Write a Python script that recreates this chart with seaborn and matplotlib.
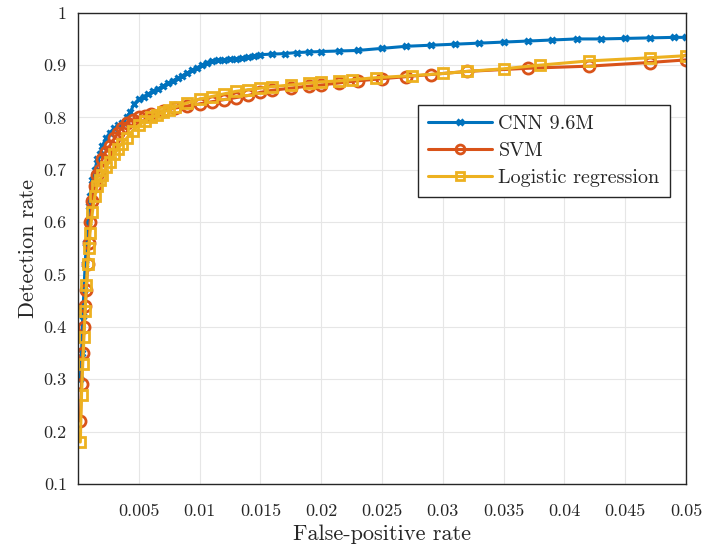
import numpy as np
import pandas as pd
import matplotlib
matplotlib.use('Agg')
import matplotlib.pyplot as plt
import seaborn as sns

# Curvas ROC
cnn_x = [0.0002, 0.0003, 0.0004, 0.0005, 0.0006, 0.0007, 0.0008, 0.0009, 0.001, 0.0012,
         0.0014, 0.0016, 0.0018, 0.002, 0.0023, 0.0026, 0.003, 0.0033, 0.0036, 0.004,
         0.0043, 0.0046, 0.005, 0.0054, 0.0058, 0.0062, 0.0066, 0.007, 0.0074, 0.0078,
         0.0082, 0.0086, 0.009, 0.0094, 0.0098, 0.0102, 0.0106, 0.011, 0.0115, 0.012,
         0.0125, 0.013, 0.0135, 0.014, 0.0145, 0.015, 0.016, 0.017, 0.018, 0.019, 0.02,
         0.0215, 0.023, 0.025, 0.027, 0.029, 0.031, 0.033, 0.035, 0.037, 0.039, 0.041,
         0.043, 0.045, 0.047, 0.049, 0.05]
cnn_y = [0.30, 0.35, 0.42, 0.47, 0.52, 0.56, 0.60, 0.63, 0.65, 0.68,
         0.70, 0.72, 0.73, 0.745, 0.76, 0.77, 0.78, 0.785, 0.79, 0.80,
         0.81, 0.825, 0.835, 0.84, 0.845, 0.85, 0.855, 0.86, 0.865, 0.87,
         0.875, 0.88, 0.885, 0.89, 0.895, 0.90, 0.905, 0.908, 0.910, 0.910,
         0.912, 0.912, 0.914, 0.915, 0.917, 0.920, 0.921, 0.922, 0.924, 0.925, 0.926,
         0.927, 0.928, 0.932, 0.936, 0.938, 0.940, 0.942, 0.944, 0.946, 0.948, 0.950,
         0.950, 0.951, 0.952, 0.953, 0.953]

svm_x = [0.0002, 0.0003, 0.0004, 0.0005, 0.0006, 0.0007, 0.0008, 0.0009, 0.001, 0.0012,
         0.0014, 0.0016, 0.0018, 0.002, 0.0023, 0.0026, 0.003, 0.0033, 0.0036, 0.004,
         0.0045, 0.005, 0.0055, 0.006, 0.007, 0.008, 0.009, 0.01, 0.011, 0.012,
         0.013, 0.014, 0.015, 0.016, 0.0175, 0.019, 0.02, 0.0215, 0.023, 0.025,
         0.027, 0.029, 0.032, 0.037, 0.042, 0.047, 0.05]
svm_y = [0.22, 0.29, 0.35, 0.40, 0.44, 0.47, 0.52, 0.56, 0.60, 0.64,
         0.67, 0.69, 0.70, 0.72, 0.735, 0.745, 0.76, 0.77, 0.78, 0.79,
         0.795, 0.80, 0.803, 0.806, 0.812, 0.818, 0.822, 0.826, 0.830, 0.834,
         0.838, 0.842, 0.848, 0.852, 0.856, 0.860, 0.862, 0.866, 0.870, 0.874,
         0.878, 0.882, 0.888, 0.894, 0.898, 0.905, 0.910]

lr_x = [0.0002, 0.0003, 0.0004, 0.0005, 0.0006, 0.0007, 0.0008, 0.0009, 0.001, 0.0012,
        0.0014, 0.0016, 0.0018, 0.002, 0.0023, 0.0026, 0.003, 0.0033, 0.0036, 0.004,
        0.0045, 0.005, 0.0055, 0.006, 0.0065, 0.007, 0.0075, 0.008, 0.009, 0.01,
        0.011, 0.012, 0.013, 0.014, 0.015, 0.016, 0.0175, 0.019, 0.02, 0.0215,
        0.0225, 0.0245, 0.0275, 0.03, 0.032, 0.035, 0.038, 0.042, 0.047, 0.05]
lr_y = [0.18, 0.27, 0.33, 0.38, 0.43, 0.48, 0.52, 0.55, 0.58, 0.62,
        0.65, 0.67, 0.68, 0.69, 0.705, 0.715, 0.73, 0.74, 0.75, 0.76,
        0.775, 0.785, 0.793, 0.80, 0.805, 0.81, 0.815, 0.82, 0.828, 0.835,
        0.840, 0.845, 0.850, 0.853, 0.856, 0.859, 0.862, 0.866, 0.868, 0.870,
        0.872, 0.876, 0.880, 0.884, 0.888, 0.893, 0.900, 0.908, 0.914, 0.918]

sns.set_style('whitegrid')
plt.rcParams['font.family'] = ['cmr10', 'DejaVu Serif']
plt.rcParams['axes.formatter.use_mathtext'] = True

fig = plt.figure(figsize=(7.08, 5.55), dpi=100)
ax = fig.add_axes([0.110, 0.128, 0.859, 0.849])

sns.lineplot(x=cnn_x, y=cnn_y, ax=ax, color='#0072BD', linewidth=2.2, sort=False,
             marker='x', markersize=5, markeredgewidth=2.2, markeredgecolor='#0072BD',
             label='CNN 9.6M')
sns.lineplot(x=svm_x, y=svm_y, ax=ax, color='#D95319', linewidth=2.2, sort=False,
             marker='o', markersize=8, markerfacecolor='none', markeredgewidth=2.0,
             markeredgecolor='#D95319', label='SVM')
sns.lineplot(x=lr_x, y=lr_y, ax=ax, color='#EDB120', linewidth=2.2, sort=False,
             marker='s', markersize=7, markerfacecolor='none', markeredgewidth=2.0,
             markeredgecolor='#EDB120', label='Logistic regression')

ax.set_xlim(0, 0.05)
ax.set_ylim(0.1, 1)
ax.set_xticks(np.arange(0.005, 0.0501, 0.005))
ax.set_xticklabels(['0.005', '0.01', '0.015', '0.02', '0.025', '0.03', '0.035', '0.04', '0.045', '0.05'])
ax.set_yticks(np.arange(0.1, 1.01, 0.1))
ax.set_yticklabels(['0.1', '0.2', '0.3', '0.4', '0.5', '0.6', '0.7', '0.8', '0.9', '1'])
ax.tick_params(axis='both', labelsize=13, direction='in', length=5, color='#262626', pad=8)
ax.tick_params(axis='x', pad=14)
ax.grid(True, color='#e6e6e6', linewidth=0.8)
for s in ax.spines.values():
    s.set_color('#262626')
    s.set_linewidth(1.0)
ax.set_xlabel('False-positive rate', fontsize=16)
ax.set_ylabel('Detection rate', fontsize=16)

leg = ax.legend(loc='upper left', bbox_to_anchor=(0.559, 0.805), fontsize=14.5,
                frameon=True, fancybox=False, edgecolor='#262626', framealpha=1,
                handlelength=3.2, borderpad=0.5, labelspacing=0.45, handletextpad=0.3,
                borderaxespad=0, markerscale=0.8)
leg.get_frame().set_linewidth(1.0)

fig.savefig('out.png', dpi=100)
